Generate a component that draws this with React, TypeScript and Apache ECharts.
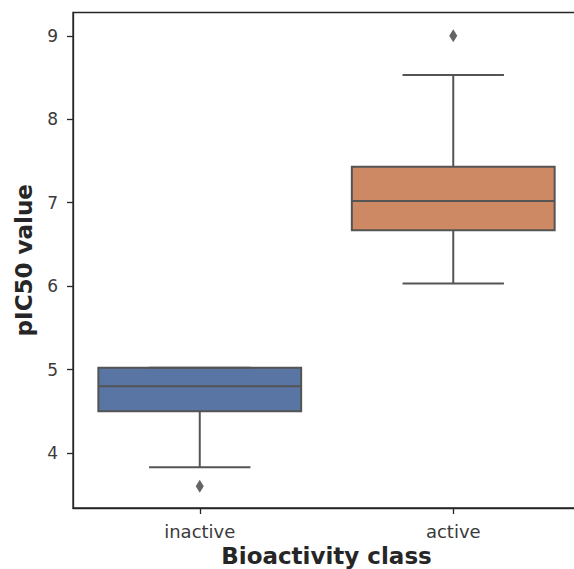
import React, { useEffect, useRef } from "react";
import * as echarts from "echarts";

const categories = ["inactive", "active"];
const boxMin = [3.83, 6.03];
const boxQ1 = [4.5, 6.67];
const boxMedian = [4.8, 7.02];
const boxQ3 = [5.02, 7.43];
const boxMax = [5.02, 8.53];
const outlierCategory = ["inactive", "active"];
const outlierValues = [3.6, 9.0];
const yTicks = [4, 5, 6, 7, 8, 9];
const fillColors = ["#5875a4", "#cc8963"];

export default function App() {
  const ref = useRef<HTMLDivElement>(null);
  useEffect(() => {
    document.body.style.margin = "0";
    const chart = echarts.init(ref.current!, null, { renderer: "svg" });
    const lineColor = "#545454";
    const boxData = categories.map((c, i) => [i, boxMin[i], boxQ1[i], boxMedian[i], boxQ3[i], boxMax[i]]);
    chart.setOption({
      animation: false,
      grid: {
        left: 73,
        top: 12.5,
        width: 507,
        bottom: 61,
        show: true,
        borderColor: "#262626",
        borderWidth: 1.3,
        containLabel: false,
        outerBoundsMode: "none",
      },
      xAxis: {
        type: "category",
        data: categories,
        boundaryGap: true,
        name: "Bioactivity class",
        nameLocation: "middle",
        nameGap: 36,
        nameTextStyle: { fontFamily: "DejaVu Sans", fontSize: 23, fontWeight: "bold", color: "#262626" },
        axisLine: { show: true, lineStyle: { color: "#262626", width: 1.3 } },
        axisTick: { show: true, alignWithLabel: true, length: 6, lineStyle: { color: "#262626", width: 1.3 } },
        axisLabel: { fontFamily: "DejaVu Sans", fontSize: 18, color: "#3a3a3a", margin: 14 },
        splitLine: { show: false },
      },
      yAxis: {
        type: "value",
        min: 3.34,
        max: 9.28,
        name: "pIC50 value",
        nameLocation: "middle",
        nameGap: 38,
        nameTextStyle: { fontFamily: "DejaVu Sans", fontSize: 23, fontWeight: "bold", color: "#262626" },
        axisLine: { show: true, lineStyle: { color: "#262626", width: 1.3 } },
        axisTick: { show: true, length: 6, customValues: yTicks, lineStyle: { color: "#262626", width: 1.3 } },
        axisLabel: { fontFamily: "DejaVu Sans", fontSize: 17, color: "#3a3a3a", margin: 15, customValues: yTicks },
        splitLine: { show: false },
      },
      series: [
        {
          type: "custom",
          data: boxData,
          encode: { x: 0, y: [1, 2, 3, 4, 5] },
          renderItem: (params: any, api: any) => {
            const idx = api.value(0);
            const pMin = api.coord([idx, api.value(1)]);
            const pQ1 = api.coord([idx, api.value(2)]);
            const pMed = api.coord([idx, api.value(3)]);
            const pQ3 = api.coord([idx, api.value(4)]);
            const pMax = api.coord([idx, api.value(5)]);
            const band = api.size([1, 0])[0];
            const cx = pMin[0];
            const half = band * 0.4;
            const cap = band * 0.2;
            const ls = { stroke: lineColor, lineWidth: 2 };
            return {
              type: "group",
              children: [
                { type: "line", shape: { x1: cx, y1: pMin[1], x2: cx, y2: pQ1[1] }, style: ls },
                { type: "line", shape: { x1: cx, y1: pQ3[1], x2: cx, y2: pMax[1] }, style: ls },
                {
                  type: "rect",
                  shape: { x: cx - half, y: pQ3[1], width: half * 2, height: pQ1[1] - pQ3[1] },
                  style: { fill: fillColors[idx], stroke: lineColor, lineWidth: 2 },
                },
                { type: "line", shape: { x1: cx - cap, y1: pMin[1], x2: cx + cap, y2: pMin[1] }, style: ls },
                { type: "line", shape: { x1: cx - cap, y1: pMax[1], x2: cx + cap, y2: pMax[1] }, style: ls },
                { type: "line", shape: { x1: cx - half, y1: pMed[1], x2: cx + half, y2: pMed[1] }, style: ls },
              ],
            };
          },
        },
        {
          type: "scatter",
          data: outlierCategory.map((c, i) => [c, outlierValues[i]]),
          symbol: "diamond",
          symbolSize: [8, 13],
          itemStyle: { color: "#3d3d3d" },
        },
      ],
    });
    return () => chart.dispose();
  }, []);
  return <div ref={ref} style={{ width: 574, height: 569 }} />;
}
